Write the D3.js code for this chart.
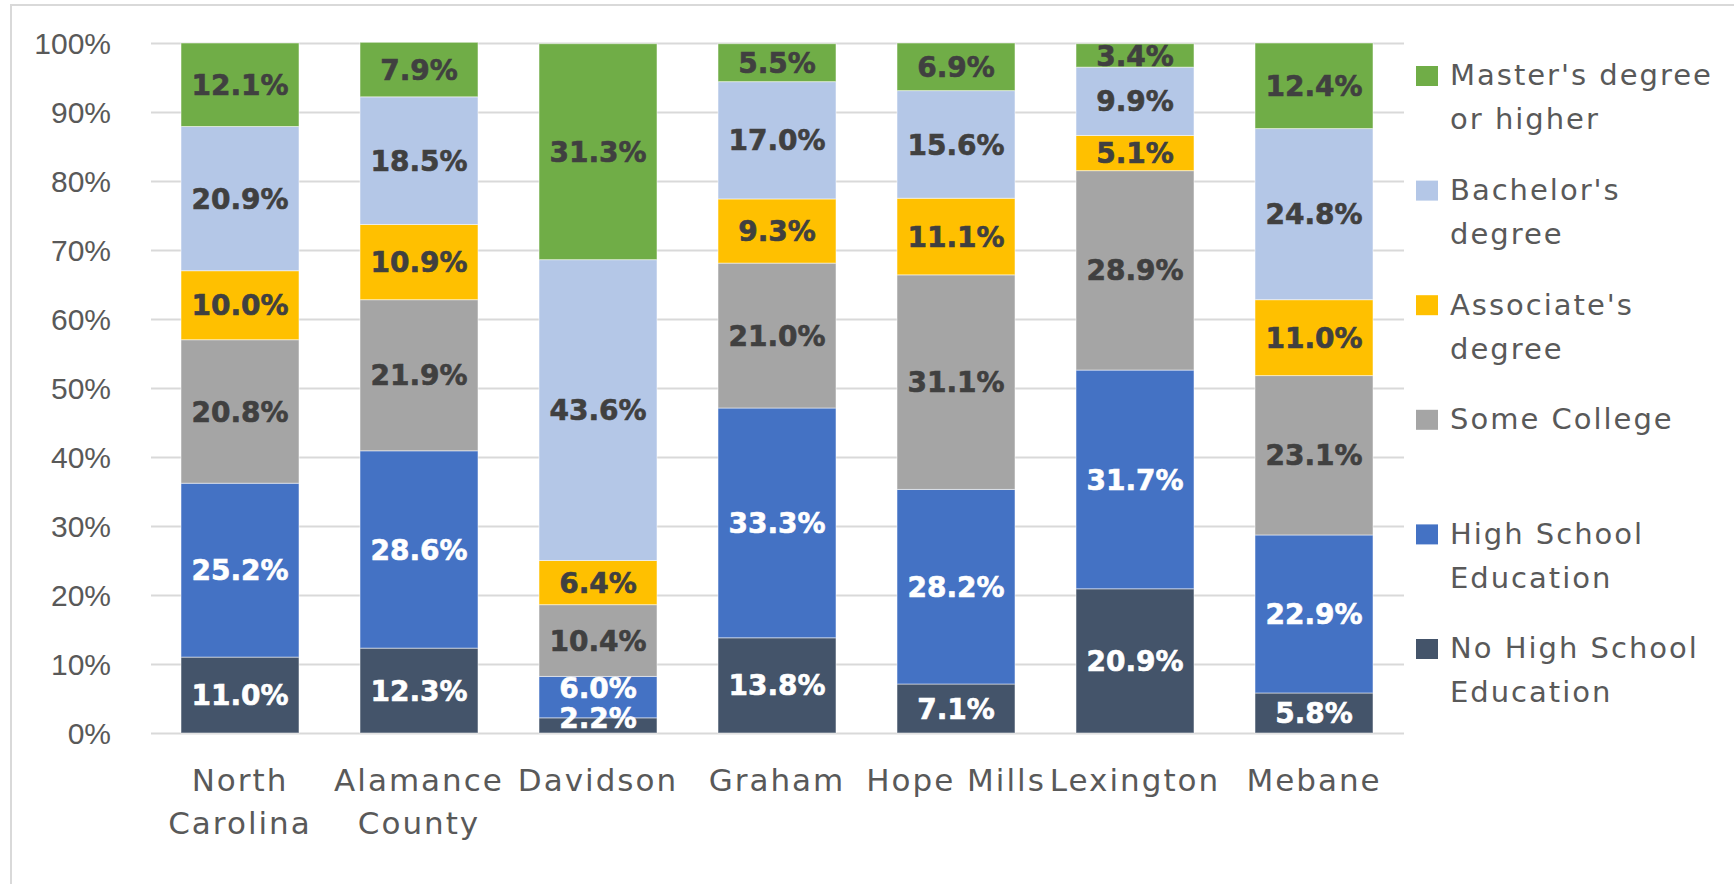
<!DOCTYPE html>
<html>
<head>
<meta charset="utf-8">
<script src="https://cdn.jsdelivr.net/npm/d3@7"></script>
<style>
  body { margin: 0; background: #fff; }
  svg { display: block; font-family: 'DejaVu Sans', sans-serif; }
</style>
</head>
<body>
<div class="result"></div>
<script>
// Categories (places) - line breaks as shown on the axis
const places = ['North Carolina', 'Alamance County', 'Davidson', 'Graham', 'Hope Mills', 'Lexington', 'Mebane'];
const placeLines = [['North', 'Carolina'], ['Alamance', 'County'], ['Davidson'], ['Graham'], ['Hope Mills'], ['Lexington'], ['Mebane']];

// Series, bottom to top (percent)
const noHighSchool = [11.0, 12.3, 2.2, 13.8, 7.1, 20.9, 5.8];
const highSchool   = [25.2, 28.6, 6.0, 33.3, 28.2, 31.7, 22.9];
const someCollege  = [20.8, 21.9, 10.4, 21.0, 31.1, 28.9, 23.1];
const associates   = [10.0, 10.9, 6.4, 9.3, 11.1, 5.1, 11.0];
const bachelors    = [20.9, 18.5, 43.6, 17.0, 15.6, 9.9, 24.8];
const masters      = [12.1, 7.9, 31.3, 5.5, 6.9, 3.4, 12.4];

const seriesKeys = ['noHS', 'hs', 'some', 'assoc', 'bach', 'master'];
const seriesValues = [noHighSchool, highSchool, someCollege, associates, bachelors, masters];
const seriesNames = [
  ['No High School', 'Education'],
  ['High School', 'Education'],
  ['Some College'],
  ["Associate's", 'degree'],
  ["Bachelor's", 'degree'],
  ["Master's degree", 'or higher']
];
const seriesColors = ['#44546a', '#4472c4', '#a5a5a5', '#ffc000', '#b4c7e7', '#70ad47'];
const labelColors = ['#ffffff', '#ffffff', '#404040', '#404040', '#404040', '#404040'];

const yTicks = [0, 0.1, 0.2, 0.3, 0.4, 0.5, 0.6, 0.7, 0.8, 0.9, 1];

// Size
const w = 1734;
const h = 884;

// Build rows for d3.stack
const rows = places.map(function (p, i) {
  const row = { place: p, idx: i };
  seriesKeys.forEach(function (k, j) { row[k] = seriesValues[j][i] / 100; });
  return row;
});

const stacked = d3.stack().keys(seriesKeys)(rows);

// Scales
const xScale = d3.scaleBand()
  .domain(places)
  .range([150.5, 1403.5])
  .paddingInner(0.3408)
  .paddingOuter(0.1704);

const yScale = d3.scaleLinear()
  .domain([0, 1])
  .range([733, 43]);

const svg = d3.select('.result')
  .append('svg')
  .attr('width', w)
  .attr('height', h);

// Chart frame (only left and top edges are inside the picture)
svg.append('rect')
  .attr('x', 11)
  .attr('y', 5)
  .attr('width', w + 20)
  .attr('height', h + 20)
  .attr('fill', 'none')
  .attr('stroke', '#d9d9d9')
  .attr('stroke-width', 2);

// Gridlines + y labels via axis
const yAxis = d3.axisLeft(yScale)
  .tickValues(yTicks)
  .tickSize(-(1404 - 151))
  .tickPadding(40)
  .tickFormat(d3.format('.0%'));

const gy = svg.append('g')
  .attr('class', 'y axis')
  .attr('transform', 'translate(151,0)')
  .call(yAxis);

gy.select('.domain').remove();
gy.selectAll('.tick line')
  .attr('stroke', '#d9d9d9')
  .attr('stroke-width', 2);
gy.selectAll('.tick text')
  .attr('fill', '#595959')
  .attr('font-size', 30)
  .attr('x', 111 - 151)
  .attr('dy', '0.36em');

// Bars
const layers = svg.append('g')
  .selectAll('g')
  .data(stacked)
  .enter()
  .append('g')
  .attr('fill', function (d, i) { return seriesColors[i]; });

layers.selectAll('rect')
  .data(function (d) { return d; })
  .enter()
  .append('rect')
  .attr('x', function (d) { return xScale(d.data.place); })
  .attr('y', function (d) { return yScale(d[1]); })
  .attr('width', xScale.bandwidth())
  .attr('height', function (d) { return yScale(d[0]) - yScale(d[1]); })
  .attr('stroke', '#ffffff')
  .attr('stroke-opacity', 0.5)
  .attr('stroke-width', 1);

// Data labels - centered in each segment, nudged up when too close to the axis or the label below
const labelData = [];
places.forEach(function (p, i) {
  let prevY = null;
  stacked.forEach(function (layer, j) {
    const seg = layer[i];
    let ly = (yScale(seg[0]) + yScale(seg[1])) / 2;
    if (ly > yScale(0) - 15) ly = yScale(0) - 15;
    if (prevY !== null && prevY - ly < 30) ly = prevY - 30;
    prevY = ly;
    labelData.push({ place: p, y: ly, value: seriesValues[j][i], color: labelColors[j] });
  });
});

svg.append('g')
  .selectAll('text')
  .data(labelData)
  .enter()
  .append('text')
  .attr('x', function (d) { return xScale(d.place) + xScale.bandwidth() / 2; })
  .attr('y', function (d) { return d.y; })
  .attr('dy', '0.36em')
  .attr('text-anchor', 'middle')
  .attr('font-size', 28)
  .attr('font-weight', 'bold')
  .attr('fill', function (d) { return d.color; })
  .attr('stroke', function (d) { return d.color; })
  .attr('stroke-width', 0.6)
  .text(function (d) { return d.value.toFixed(1) + '%'; });

// X axis labels
const xl = svg.append('g')
  .selectAll('text')
  .data(places)
  .enter()
  .append('text')
  .attr('x', function (d) { return xScale(d) + xScale.bandwidth() / 2; })
  .attr('y', 780)
  .attr('text-anchor', 'middle')
  .attr('font-size', 31)
  .attr('letter-spacing', 2)
  .attr('fill', '#595959');

xl.selectAll('tspan')
  .data(function (d, i) { return placeLines[i]; })
  .enter()
  .append('tspan')
  .attr('x', function () { return d3.select(this.parentNode).attr('x'); })
  .attr('dy', function (d, i) { return i === 0 ? '0.36em' : 43; })
  .text(function (d) { return d; });

// Legend, top to bottom: highest series first
const legendOrder = [5, 4, 3, 2, 1, 0];
const legend = svg.append('g')
  .selectAll('g')
  .data(legendOrder)
  .enter()
  .append('g')
  .attr('transform', function (d, i) { return 'translate(1416,' + (75 + i * 114.6) + ')'; });

legend.append('rect')
  .attr('x', 0)
  .attr('y', -9)
  .attr('width', 22)
  .attr('height', 20)
  .attr('fill', function (d) { return seriesColors[d]; });

legend.append('text')
  .attr('x', 34)
  .attr('y', 0)
  .attr('font-size', 29)
  .attr('letter-spacing', 2)
  .attr('fill', '#595959')
  .selectAll('tspan')
  .data(function (d) { return seriesNames[d]; })
  .enter()
  .append('tspan')
  .attr('x', 34)
  .attr('dy', function (d, i) { return i === 0 ? '0.36em' : 44; })
  .text(function (d) { return d; });
</script>
</body>
</html>
